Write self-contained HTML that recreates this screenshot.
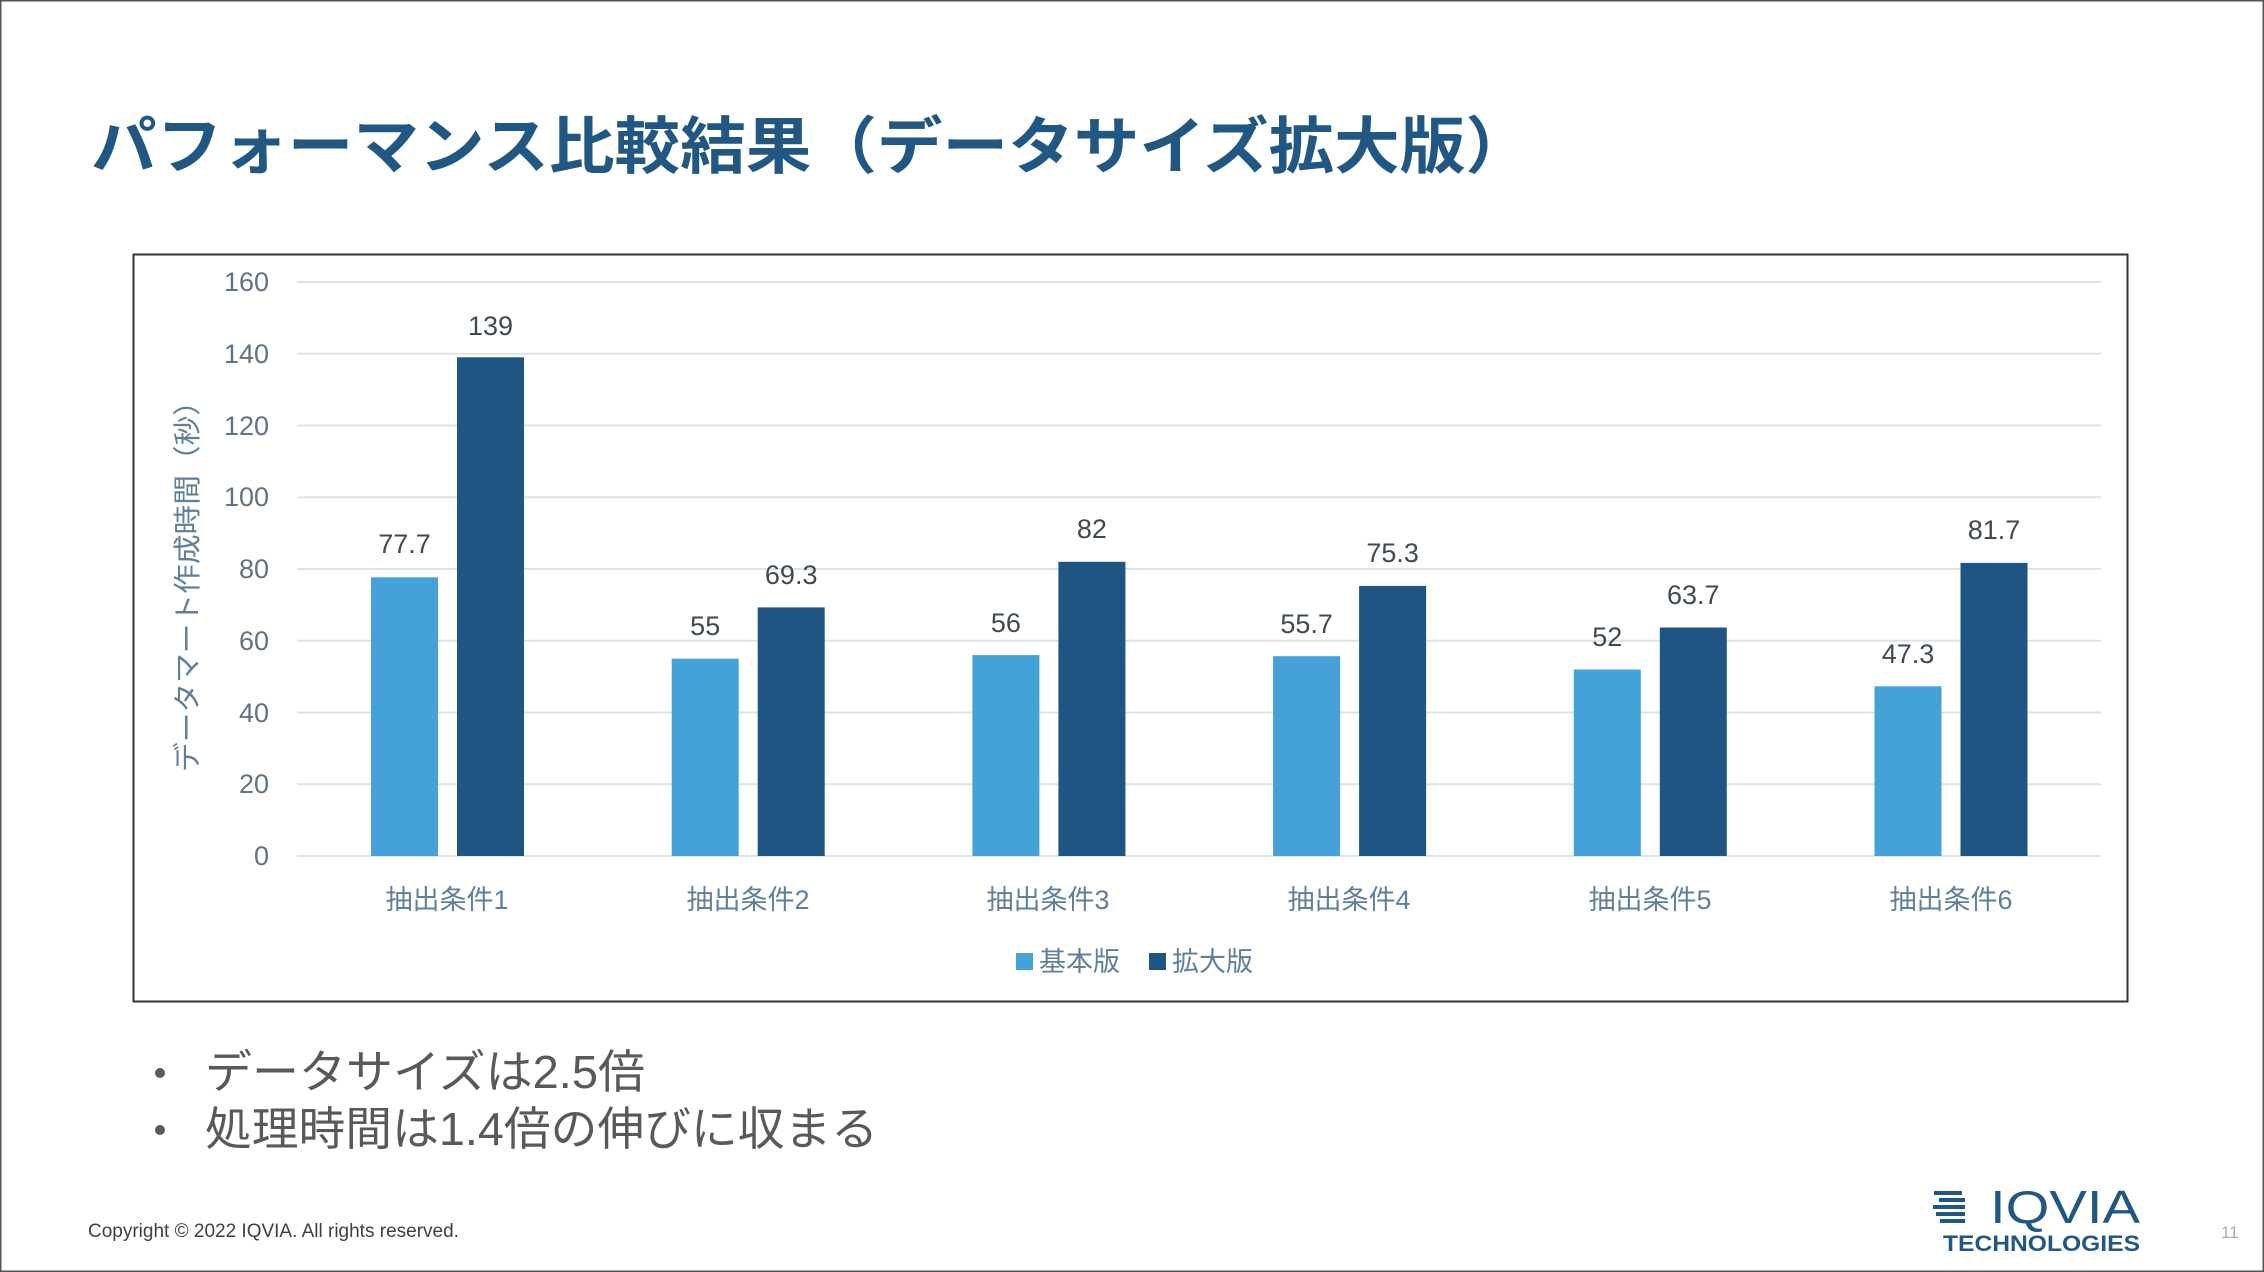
<!DOCTYPE html>
<html><head><meta charset="utf-8"><style>
html,body{margin:0;padding:0;background:#fff}
svg{display:block}
text{font-family:"Liberation Sans","Noto Sans CJK JP",sans-serif}
</style></head><body>
<svg width="2264" height="1272" viewBox="0 0 2264 1272" xmlns="http://www.w3.org/2000/svg">
<rect x="0.5" y="0.5" width="2263" height="1271" fill="#fff" stroke="#555" stroke-width="2"/>
<text x="91" y="168" font-size="62" font-weight="bold" fill="#215783" textLength="1440" lengthAdjust="spacingAndGlyphs">パフォーマンス比較結果（データサイズ拡大版）</text>
<rect x="133.5" y="254.5" width="1994" height="747" fill="#fff" stroke="#333" stroke-width="2"/>
<g stroke="#dde3e8" stroke-width="2">
<line x1="297" x2="2101" y1="282" y2="282"/><line x1="297" x2="2101" y1="353.75" y2="353.75"/>
<line x1="297" x2="2101" y1="425.5" y2="425.5"/><line x1="297" x2="2101" y1="497.25" y2="497.25"/>
<line x1="297" x2="2101" y1="569" y2="569"/><line x1="297" x2="2101" y1="640.75" y2="640.75"/>
<line x1="297" x2="2101" y1="712.5" y2="712.5"/><line x1="297" x2="2101" y1="784.25" y2="784.25"/>
<line x1="297" x2="2101" y1="856" y2="856"/>
</g>
<g font-size="27" fill="#5f7486" text-anchor="end">
<text x="269" y="291">160</text><text x="269" y="363">140</text><text x="269" y="435">120</text>
<text x="269" y="506">100</text><text x="269" y="578">80</text><text x="269" y="650">60</text>
<text x="269" y="722">40</text><text x="269" y="793">20</text><text x="269" y="865">0</text>
</g>
<text transform="translate(197,579) rotate(-90)" font-size="28" fill="#5f7f9a" text-anchor="middle" textLength="386" lengthAdjust="spacingAndGlyphs">データマート作成時間（秒）</text>
<g fill="#44a2d9">
<rect x="371" y="577.3" width="67" height="278.7"/>
<rect x="671.7" y="658.7" width="67" height="197.3"/>
<rect x="972.4" y="655.1" width="67" height="200.9"/>
<rect x="1273.1" y="656.2" width="67" height="199.8"/>
<rect x="1573.8" y="669.5" width="67" height="186.5"/>
<rect x="1874.5" y="686.3" width="67" height="169.7"/>
</g>
<g fill="#1f5582">
<rect x="457" y="357.3" width="67" height="498.7"/>
<rect x="757.7" y="607.4" width="67" height="248.6"/>
<rect x="1058.4" y="561.8" width="67" height="294.2"/>
<rect x="1359.1" y="585.9" width="67" height="270.1"/>
<rect x="1659.8" y="627.5" width="67" height="228.5"/>
<rect x="1960.5" y="562.9" width="67" height="293.1"/>
</g>
<g font-size="27" fill="#404a52" text-anchor="middle">
<text x="404.5" y="553">77.7</text><text x="490.5" y="335">139</text>
<text x="705.2" y="635">55</text><text x="791.2" y="584">69.3</text>
<text x="1005.9" y="632">56</text><text x="1091.9" y="538">82</text>
<text x="1306.6" y="633">55.7</text><text x="1392.6" y="562">75.3</text>
<text x="1607.3" y="646">52</text><text x="1693.3" y="604">63.7</text>
<text x="1908" y="663">47.3</text><text x="1994" y="539">81.7</text>
</g>
<g font-size="27" fill="#5f7f9a" text-anchor="middle">
<text x="447" y="909">抽出条件1</text><text x="748" y="909">抽出条件2</text>
<text x="1048" y="909">抽出条件3</text><text x="1349" y="909">抽出条件4</text>
<text x="1650" y="909">抽出条件5</text><text x="1951" y="909">抽出条件6</text>
</g>
<rect x="1016" y="953" width="17" height="17" fill="#44a2d9"/>
<text x="1039" y="971" font-size="27" fill="#5f7f9a">基本版</text>
<rect x="1149" y="953" width="17" height="17" fill="#1f5582"/>
<text x="1172" y="971" font-size="27" fill="#5f7f9a">拡大版</text>
<g font-size="46" fill="#595959">
<circle cx="160" cy="1073" r="5"/><text x="205" y="1088" textLength="440" lengthAdjust="spacingAndGlyphs">データサイズは2.5倍</text>
<circle cx="160" cy="1130" r="5"/><text x="205" y="1145" textLength="673" lengthAdjust="spacingAndGlyphs">処理時間は1.4倍の伸びに収まる</text>
</g>
<text x="88" y="1237" font-size="19" fill="#404040">Copyright © 2022 IQVIA. All rights reserved.</text>
<g fill="#215783">
<rect x="1934" y="1191" width="28" height="4"/><rect x="1939" y="1198" width="26" height="4"/>
<rect x="1933" y="1205" width="32" height="4"/><rect x="1936" y="1212" width="29" height="4"/>
<rect x="1940" y="1219" width="25" height="4"/>
</g>
<text x="1990" y="1223" font-size="46" fill="#215783" textLength="150" lengthAdjust="spacingAndGlyphs">IQVIA</text>
<text x="1943" y="1251" font-size="22" font-weight="bold" fill="#215783" textLength="197" lengthAdjust="spacingAndGlyphs">TECHNOLOGIES</text>
<text x="2221" y="1238" font-size="17" fill="#aaa">11</text>
</svg>
</body></html>
